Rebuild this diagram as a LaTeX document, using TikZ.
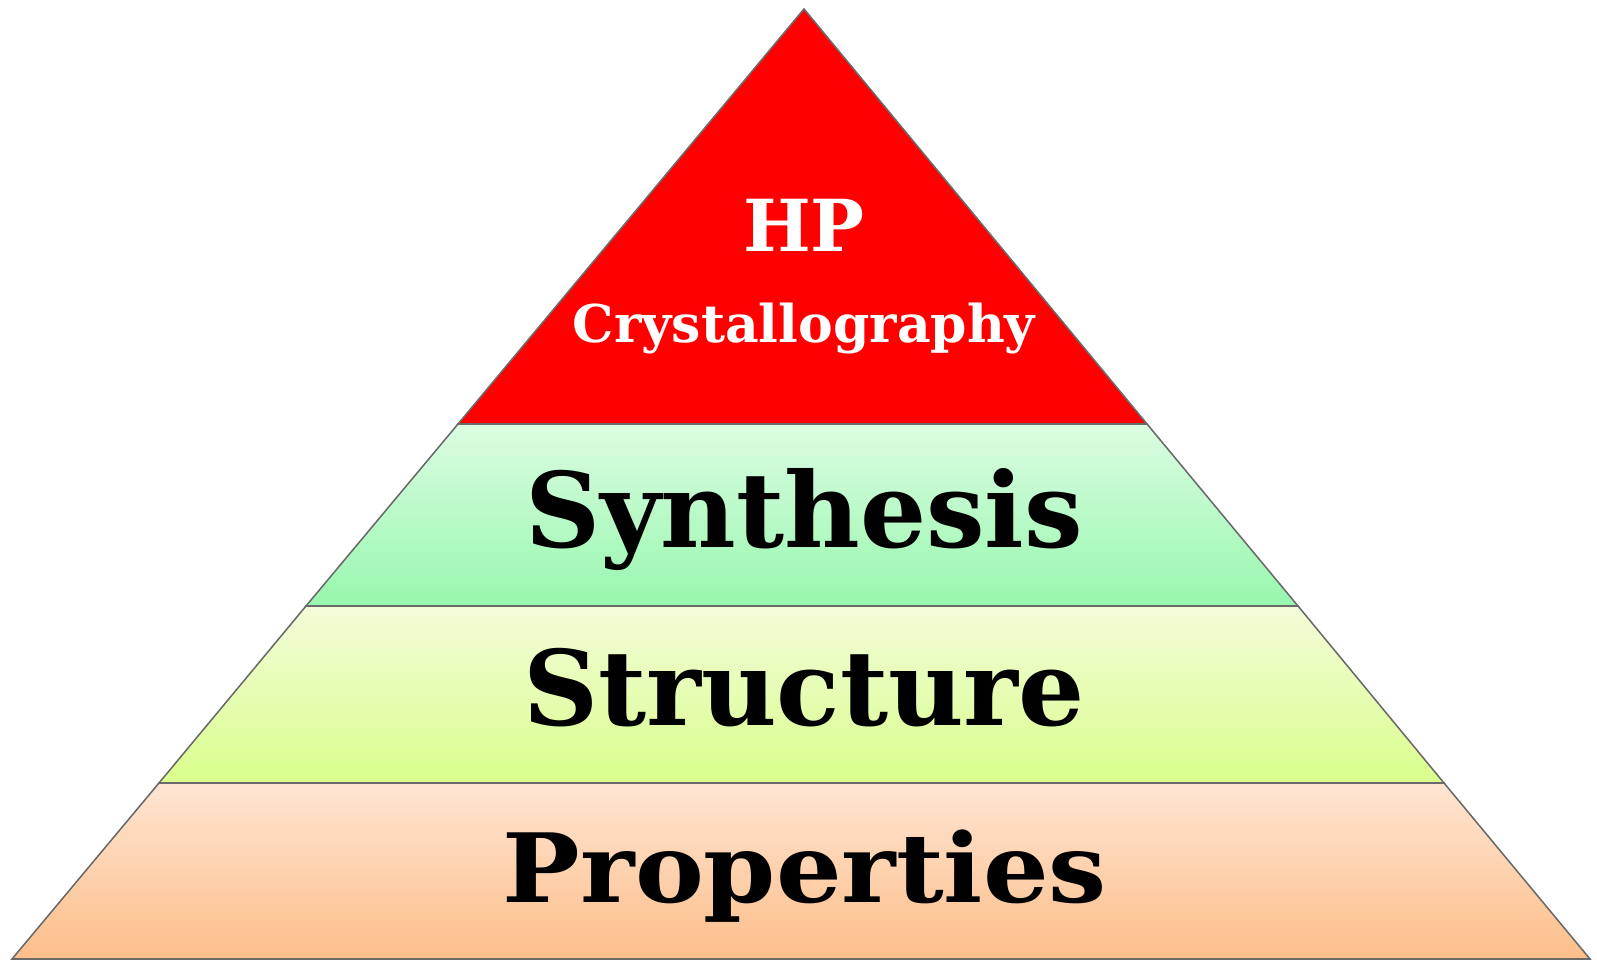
\documentclass[tikz,border=0pt]{standalone}
\usepackage{fontspec}
\setmainfont{DejaVu Serif}
\usepackage{tikz}

\definecolor{apexred}{HTML}{FF0000}
\definecolor{greentop}{HTML}{DCFCE2}
\definecolor{greenbot}{HTML}{97F7AE}
\definecolor{yellowtop}{HTML}{F3FCD9}
\definecolor{yellowbot}{HTML}{D9FE8C}
\definecolor{orangetop}{HTML}{FEE5D2}
\definecolor{orangebot}{HTML}{FDBE8A}
\definecolor{edgegray}{HTML}{6A6A6A}

\tikzset{
  layer/.style={draw=edgegray, line width=1.1pt, line join=miter},
  lbl/.style={anchor=base, inner sep=0pt, font=\bfseries}
}

\begin{document}
\begin{tikzpicture}[x=0.025cm, y=-0.025cm]
        \useasboundingbox (0,0) rectangle (1597,960);

        % pyramid layers, bottom to top
        \shadedraw[layer, top color=orangetop, bottom color=orangebot]
          (159,783) -- (1444,783) -- (1590,959) -- (12,959) -- cycle;
        \shadedraw[layer, top color=yellowtop, bottom color=yellowbot]
          (306,606) -- (1298,606) -- (1444,783) -- (159,783) -- cycle;
        \shadedraw[layer, top color=greentop, bottom color=greenbot]
          (458,424) -- (1147,424) -- (1298,606) -- (306,606) -- cycle;
        \filldraw[layer, fill=apexred]
          (804,9) -- (1147,424) -- (458,424) -- cycle;

        % labels
        \node[lbl, white, font=\bfseries\fontsize{51}{51}\selectfont] (hp) at (804,251) {HP};
        \node[lbl, white, font=\bfseries\fontsize{37}{37}\selectfont] (cryst) at (804,342) {Crystallography};
        \node[lbl, font=\bfseries\fontsize{74}{74}\selectfont] (synth) at (804,547) {Synthesis};
        \node[lbl, font=\bfseries\fontsize{74}{74}\selectfont] (struct) at (804,725) {Structure};
        \node[lbl, font=\bfseries\fontsize{68}{68}\selectfont] (props) at (805,902) {\scalebox{1.08}[1]{Properties}};
\end{tikzpicture}
\end{document}
